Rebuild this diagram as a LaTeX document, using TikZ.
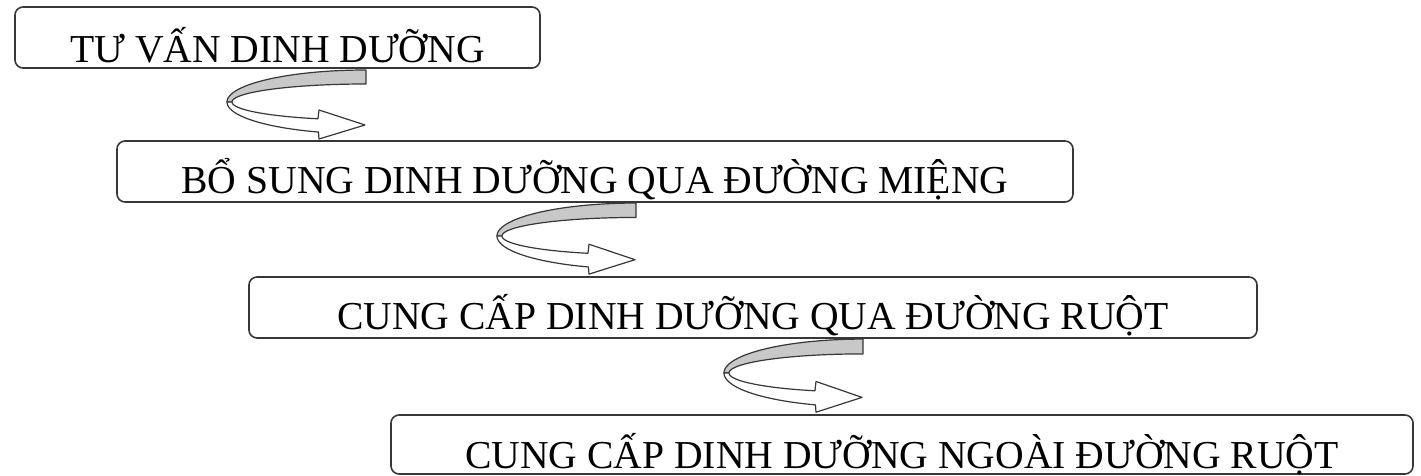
\documentclass[tikz,border=0pt]{standalone}
\usepackage{fontspec}
\setmainfont{Liberation Serif}
\usetikzlibrary{calc}
\definecolor{bandgray}{RGB}{200,200,200}
\definecolor{edgecol}{RGB}{55,55,55}
\tikzset{
  stagebox/.style={draw=edgecol, line width=0.8pt, rounded corners=4pt, inner sep=0pt},
  stagetext/.style={anchor=base, inner sep=0pt, font=\fontsize{19.8}{24}\selectfont, text=black},
  bandback/.style={draw=edgecol, line width=0.6pt, fill=bandgray, line join=round},
  bandfront/.style={draw=edgecol, line width=0.6pt, fill=white, line join=round},
}
\newcommand\uturnarrow{%
  \path[bandback] plot[domain=90:180, samples=40] ({139*cos(\x)},{-32*sin(\x)})
     -- plot[domain=180:90, samples=40] ({134*cos(\x)},{-18*sin(\x)}) -- cycle;
  \path[bandfront] plot[domain=180:250, samples=30] ({139*cos(\x)},{-32*sin(\x)})
     -- (-47,37) -- (-1,23) -- (-47,8)
     -- plot[domain=249:180, samples=30] ({134*cos(\x)},{-18*sin(\x)}) -- cycle;
}
\begin{document}
\begin{tikzpicture}[x=0.5pt, y=-0.5pt]
\useasboundingbox (0,0) rectangle (1421,476);
% boxes
\node[stagebox, minimum width=262.5pt, minimum height=30.5pt] (b1) at (277.5,37.5) {};
\node[stagebox, minimum width=478pt, minimum height=30.5pt] (b2) at (595,171.5) {};
\node[stagebox, minimum width=504pt, minimum height=30.5pt] (b3) at (753,307.5) {};
\node[stagebox, minimum width=511pt, minimum height=29.5pt] (b4) at (902,444.5) {};
% texts
\node[stagetext] (t1) at (277.5,62.5) {TƯ VẤN DINH DƯỠNG};
\node[stagetext] (t2) at (595,193.5) {BỔ SUNG DINH DƯỠNG QUA ĐƯỜNG MIỆNG};
\node[stagetext] (t3) at (753,329.5) {CUNG CẤP DINH DƯỠNG QUA ĐƯỜNG RUỘT};
\node[stagetext] (t4) at (902,468.5) {CUNG CẤP DINH DƯỠNG NGOÀI ĐƯỜNG RUỘT};
% u-turn arrows
\coordinate (a1) at (366,102);
\coordinate (a2) at (636,236);
\coordinate (a3) at (863,373);
\begin{scope}[shift={(a1)}]\uturnarrow\end{scope}
\begin{scope}[shift={(a2)}, yscale=1.03]\uturnarrow\end{scope}
\begin{scope}[shift={(a3)}, yscale=1.06]\uturnarrow\end{scope}
\end{tikzpicture}
\end{document}
